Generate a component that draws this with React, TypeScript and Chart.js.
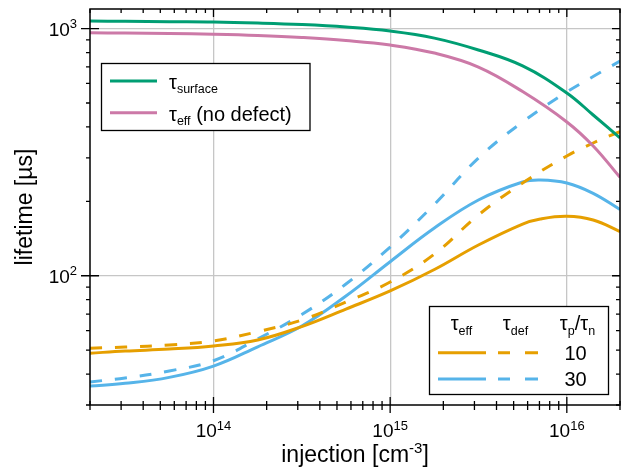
import React, { useEffect, useRef } from 'react';
import { Chart, registerables } from 'chart.js';
Chart.register(...registerables);

// ---------------- data ----------------
// injection grid (cm^-3) for the monotonic curves
const injection = [2e13, 3.16e13, 5.62e13, 1e14, 1.78e14, 3.16e14, 5.62e14, 1e15, 1.78e15, 3.16e15, 5.62e15, 1e16, 1.41e16, 2e16];
// finer grid for the curves that peak near 1e16
const injectionPeak = [2e13, 3.16e13, 5.62e13, 1e14, 1.78e14, 3.16e14, 5.62e14, 1e15, 1.78e15, 3.16e15, 5.62e15, 7.08e15, 1e16, 1.41e16, 2e16];

const tauSurface = [1073, 1070, 1066, 1063, 1053, 1038, 1014, 977, 915, 819, 706, 549, 447, 361];
const tauEffNoDefect = [962, 959, 955, 948, 937, 920, 895, 858, 796, 699, 556, 419, 335, 250];
const tauDef10 = [50.9, 51.5, 52.5, 54.5, 59.4, 66.2, 78.3, 94.3, 122.4, 176.1, 237.3, 305.1, 344.4, 383.3];
const tauDef30 = [37.2, 38.6, 41.2, 45.3, 55.5, 69.7, 92.6, 130.7, 194.5, 299.5, 418.8, 553.7, 639.7, 739];
const tauEff10 = [48.6, 49.6, 50.5, 52.0, 55.0, 62.3, 73.3, 86.8, 106.0, 133.2, 161.9, 169.7, 174, 168.1, 151.0];
const tauEff30 = [35.8, 36.7, 38.8, 43.1, 51.6, 62.6, 82.8, 114.0, 156.0, 202.5, 239.5, 244, 237.3, 215.5, 185.4];

const xTickValues = [1e14, 1e15, 1e16];
const xTickExps = ['14', '15', '16'];
const yTickValues = [100, 1000];
const yTickExps = ['2', '3'];
const ratioLabels = ['10', '30'];

const X_MIN = 2e13, X_MAX = 2e16, Y_MIN = 30, Y_MAX = 1200;

const GREEN = '#009E73', PINK = '#CC79A7', ORANGE = '#E69F00', BLUE = '#56B4E9';
const FONT = '"Liberation Sans", Arial, sans-serif';

type Seg = { t: string; size: number; dy?: number };

function richWidth(ctx: CanvasRenderingContext2D, segs: Seg[]) {
  let w = 0;
  for (const s of segs) {
    ctx.font = `${s.size}px ${FONT}`;
    w += ctx.measureText(s.t).width;
  }
  return w;
}

function drawRich(ctx: CanvasRenderingContext2D, segs: Seg[], x: number, y: number, align: 'left' | 'center' | 'right') {
  const w = richWidth(ctx, segs);
  let cx = align === 'left' ? x : align === 'center' ? x - w / 2 : x - w;
  ctx.textAlign = 'left';
  ctx.textBaseline = 'alphabetic';
  for (const s of segs) {
    ctx.font = `${s.size}px ${FONT}`;
    ctx.fillText(s.t, cx, y + (s.dy || 0));
    cx += ctx.measureText(s.t).width;
  }
}

const pts = (xs: number[], arr: number[]) => xs.map((x, i) => ({ x, y: arr[i] }));

export default function App() {
  const ref = useRef<HTMLCanvasElement>(null);

  useEffect(() => {
    const canvas = ref.current!;
    const isMajor = (v: number) => Math.abs(Math.log10(v) - Math.round(Math.log10(v))) < 1e-6;

    const custom = {
      id: 'custom',
      afterDraw(chart: any) {
        const ctx: CanvasRenderingContext2D = chart.ctx;
        const { left, right, top, bottom } = chart.chartArea;
        const xs = chart.scales.x, ys = chart.scales.y;
        ctx.save();

        // frame
        ctx.strokeStyle = '#000';
        ctx.lineWidth = 1.5;
        ctx.strokeRect(left, top, right - left, bottom - top);

        // ticks
        ctx.lineWidth = 1.3;
        ctx.beginPath();
        for (let d = 13; d <= 16; d++) {
          for (let m = 1; m <= 9; m++) {
            const v = m * Math.pow(10, d);
            if (v < X_MIN * 0.999 || v > X_MAX * 1.001) continue;
            const px = xs.getPixelForValue(v);
            const major = m === 1;
            ctx.moveTo(px, bottom - (major ? 8 : 4));
            ctx.lineTo(px, bottom + (major ? 8 : 5));
            ctx.moveTo(px, top);
            ctx.lineTo(px, top + (major ? 8 : 4));
          }
        }
        for (let d = 1; d <= 3; d++) {
          for (let m = 1; m <= 9; m++) {
            const v = m * Math.pow(10, d);
            if (v < Y_MIN * 0.999 || v > Y_MAX * 1.001) continue;
            const py = ys.getPixelForValue(v);
            const major = m === 1;
            ctx.moveTo(left - (major ? 9 : 4), py);
            ctx.lineTo(left + (major ? 9 : 0), py);
            ctx.moveTo(right - (major ? 8 : 4), py);
            ctx.lineTo(right, py);
          }
        }
        ctx.stroke();

        ctx.fillStyle = '#000';
        // tick labels
        xTickValues.forEach((v, i) => {
          const px = xs.getPixelForValue(v);
          drawRich(ctx, [{ t: '10', size: 19 }, { t: xTickExps[i], size: 13, dy: -7 }], px, 437, 'center');
        });
        yTickValues.forEach((v, i) => {
          const py = ys.getPixelForValue(v);
          drawRich(ctx, [{ t: '10', size: 19 }, { t: yTickExps[i], size: 13, dy: -8 }], 77, py + 7, 'right');
        });

        // axis titles
        drawRich(ctx, [{ t: 'injection [cm', size: 23 }, { t: '-3', size: 15, dy: -9 }, { t: ']', size: 23 }], (left + right) / 2, 462, 'center');
        ctx.save();
        ctx.translate(31.5, (top + bottom) / 2);
        ctx.rotate(-Math.PI / 2);
        drawRich(ctx, [{ t: 'lifetime [µs]', size: 23 }], 0, 0, 'center');
        ctx.restore();

        // legend 1
        ctx.fillStyle = '#fff';
        ctx.fillRect(101.5, 63.5, 208.5, 67);
        ctx.strokeStyle = '#000';
        ctx.lineWidth = 1.3;
        ctx.strokeRect(101.5, 63.5, 208.5, 67);
        ctx.lineWidth = 3;
        ctx.strokeStyle = GREEN;
        ctx.beginPath(); ctx.moveTo(110, 81); ctx.lineTo(157, 81); ctx.stroke();
        ctx.strokeStyle = PINK;
        ctx.beginPath(); ctx.moveTo(110, 112.7); ctx.lineTo(157, 112.7); ctx.stroke();
        ctx.fillStyle = '#000';
        drawRich(ctx, [{ t: 'τ', size: 20 }, { t: 'surface', size: 12.5, dy: 4 }], 169, 89, 'left');
        drawRich(ctx, [{ t: 'τ', size: 20 }, { t: 'eff', size: 12.5, dy: 4 }, { t: ' (no defect)', size: 20 }], 169, 120.5, 'left');

        // legend 2
        ctx.fillStyle = '#fff';
        ctx.fillRect(429.5, 306.5, 179, 88);
        ctx.strokeStyle = '#000';
        ctx.lineWidth = 1.3;
        ctx.strokeRect(429.5, 306.5, 179, 88);
        ctx.fillStyle = '#000';
        drawRich(ctx, [{ t: 'τ', size: 20 }, { t: 'eff', size: 12.5, dy: 5 }], 461.5, 330, 'center');
        drawRich(ctx, [{ t: 'τ', size: 20 }, { t: 'def', size: 12.5, dy: 5 }], 515.5, 330, 'center');
        drawRich(ctx, [{ t: 'τ', size: 20 }, { t: 'p', size: 12.5, dy: 5 }, { t: '/', size: 20 }, { t: 'τ', size: 20 }, { t: 'n', size: 12.5, dy: 5 }], 577.5, 330, 'center');
        const rows = [
          { color: ORANGE, y: 352.7, label: ratioLabels[0] },
          { color: BLUE, y: 379, label: ratioLabels[1] },
        ];
        for (const r of rows) {
          ctx.strokeStyle = r.color;
          ctx.lineWidth = 3;
          ctx.beginPath();
          ctx.moveTo(438, r.y); ctx.lineTo(486, r.y);
          ctx.moveTo(498, r.y); ctx.lineTo(510, r.y);
          ctx.moveTo(525, r.y); ctx.lineTo(538, r.y);
          ctx.stroke();
          ctx.fillStyle = '#000';
          drawRich(ctx, [{ t: r.label, size: 20 }], 575.5, r.y + 7, 'center');
        }

        ctx.restore();
      },
    };

    const gridColor = (c: any) => (c.tick && isMajor(c.tick.value) ? '#c6c6c6' : 'rgba(0,0,0,0)');
    const ds = (label: string, xsArr: number[], arr: number[], color: string, dashed: boolean) => ({
      label,
      data: pts(xsArr, arr),
      borderColor: color,
      backgroundColor: color,
      borderWidth: 3,
      borderDash: dashed ? [12, 13] : [],
      pointRadius: 0,
      fill: false,
      tension: 0.4,
    });

    const chart = new Chart(canvas, {
      type: 'line',
      data: {
        datasets: [
          ds('τsurface', injection, tauSurface, GREEN, false),
          ds('τeff (no defect)', injection, tauEffNoDefect, PINK, false),
          ds('τeff 10', injectionPeak, tauEff10, ORANGE, false),
          ds('τdef 10', injection, tauDef10, ORANGE, true),
          ds('τeff 30', injectionPeak, tauEff30, BLUE, false),
          ds('τdef 30', injection, tauDef30, BLUE, true),
        ],
      },
      options: {
        animation: false,
        responsive: false,
        devicePixelRatio: 1,
        layout: { padding: { top: 9, right: 9, left: 0, bottom: 0 } },
        plugins: { legend: { display: false }, tooltip: { enabled: false } },
        scales: {
          x: {
            type: 'logarithmic',
            min: X_MIN,
            max: X_MAX,
            ticks: { display: false },
            border: { display: false },
            grid: { color: gridColor, lineWidth: 1.3, drawTicks: false },
            afterFit: (s: any) => { s.height = 65; },
          },
          y: {
            type: 'logarithmic',
            min: Y_MIN,
            max: Y_MAX,
            ticks: { display: false },
            border: { display: false },
            grid: { color: gridColor, lineWidth: 1.3, drawTicks: false },
            afterFit: (s: any) => { s.width = 90; },
          },
        },
      },
      plugins: [custom],
    } as any);
    return () => chart.destroy();
  }, []);

  return (
    <div style={{ position: 'absolute', left: 0, top: 0, width: 629, height: 470 }}>
      <canvas ref={ref} width={629} height={470} style={{ width: 629, height: 470, display: 'block' }} />
    </div>
  );
}
